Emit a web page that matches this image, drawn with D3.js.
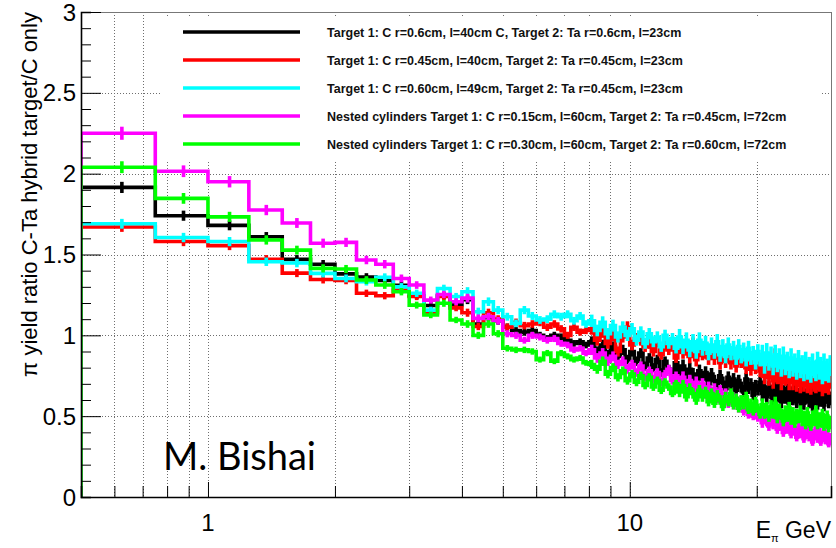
<!DOCTYPE html>
<html>
<head>
<meta charset="utf-8">
<script src="https://cdn.jsdelivr.net/npm/d3@7/dist/d3.min.js"></script>
<style>
  body { margin: 0; background: #fff; }
  svg { display: block; }
</style>
</head>
<body>
<svg id="chart" width="836" height="548"></svg>
<script>
// Histogram binning: fixed 0.25 GeV bins starting at 0.5 GeV
const binStart = 0.5;
const binWidth = 0.25;

const seriesNames = [
  "Target 1: C r=0.6cm, l=40cm C, Target 2: Ta r=0.6cm, l=23cm",
  "Target 1: C r=0.45cm, l=40cm, Target 2: Ta r=0.45cm, l=23cm",
  "Target 1: C r=0.60cm, l=49cm, Target 2: Ta r=0.45cm, l=23cm",
  "Nested cylinders Target 1: C r=0.15cm, l=60cm, Target 2: Ta r=0.45cm, l=72cm",
  "Nested cylinders Target 1: C r=0.30cm, l=60cm, Target 2: Ta r=0.60cm, l=72cm"
];
const seriesColors = ["#000000", "#ff0000", "#00ffff", "#ff00ff", "#00ff00"];

// Yield ratio per bin
const ratioBlack = [
  1.915, 1.74, 1.68, 1.61, 1.47, 1.44, 1.38, 1.36, 1.34, 1.31,
  1.245, 1.185, 1.245, 1.19, 1.22, 1.07, 1.11, 1.09, 1.05, 1.03,
  1.02, 1.03, 1.00, 0.98, 1.00, 0.99, 0.97, 0.95, 0.96, 0.94,
  0.96, 0.90, 0.94, 0.88, 0.93, 0.87, 0.91, 0.85, 0.90, 0.84,
  0.89, 0.81, 0.86, 0.80, 0.85, 0.77, 0.84, 0.79, 0.75, 0.83,
  0.77, 0.81, 0.73, 0.79, 0.76, 0.71, 0.78, 0.73, 0.77, 0.70,
  0.76, 0.72, 0.68, 0.75, 0.71, 0.67, 0.74, 0.69, 0.73, 0.66,
  0.72, 0.68, 0.65, 0.73, 0.67, 0.70, 0.63, 0.69, 0.66, 0.71,
  0.64, 0.68, 0.62, 0.67, 0.65, 0.60, 0.69, 0.63, 0.66, 0.59,
  0.65, 0.62, 0.67, 0.58, 0.64, 0.61, 0.66, 0.59, 0.63, 0.60,
  0.65, 0.58, 0.62, 0.66, 0.59, 0.63, 0.57, 0.64, 0.61, 0.58,
  0.65, 0.60, 0.63, 0.57, 0.62, 0.66, 0.59, 0.61
];
const ratioRed = [
  1.67, 1.58, 1.555, 1.47, 1.385, 1.345, 1.34, 1.26, 1.245, 1.28,
  1.24, 1.14, 1.24, 1.17, 1.14, 1.055, 1.14, 1.10, 1.05, 1.08,
  1.06, 1.07, 1.08, 1.05, 1.07, 1.04, 1.00, 1.05, 1.02, 1.03,
  1.04, 0.97, 1.02, 0.95, 1.00, 0.90, 0.99, 1.05, 0.94, 0.98,
  0.97, 0.93, 0.95, 0.90, 0.96, 0.88, 0.94, 0.91, 0.95, 0.86,
  0.93, 0.90, 0.92, 0.87, 0.94, 0.85, 0.91, 0.89, 0.90, 0.86,
  0.89, 0.86, 0.92, 0.83, 0.88, 0.84, 0.90, 0.83, 0.88, 0.81,
  0.86, 0.84, 0.85, 0.80, 0.88, 0.79, 0.84, 0.80, 0.85, 0.78,
  0.79, 0.75, 0.82, 0.74, 0.80, 0.72, 0.86, 0.75, 0.78, 0.71,
  0.78, 0.74, 0.77, 0.71, 0.79, 0.71, 0.76, 0.70, 0.78, 0.69,
  0.74, 0.70, 0.77, 0.69, 0.73, 0.68, 0.76, 0.70, 0.69, 0.75,
  0.70, 0.73, 0.67, 0.76, 0.69, 0.72, 0.68, 0.74
];
const ratioCyan = [
  1.69, 1.605, 1.58, 1.455, 1.447, 1.383, 1.352, 1.332, 1.359, 1.30,
  1.26, 1.156, 1.29, 1.24, 1.27, 1.146, 1.208, 1.156, 1.115, 1.074,
  1.156, 1.12, 1.095, 1.10, 1.13, 1.115, 1.13, 1.09, 1.12, 1.07,
  1.09, 1.03, 1.08, 1.01, 1.06, 0.99, 1.05, 1.00, 1.04, 0.97,
  1.02, 0.95, 1.01, 0.96, 0.99, 0.93, 1.00, 0.95, 0.98, 0.92,
  0.99, 0.93, 0.97, 0.91, 0.96, 0.90, 0.97, 0.92, 0.95, 0.89,
  0.94, 0.90, 0.96, 0.88, 0.93, 0.87, 0.94, 0.89, 0.92, 0.86,
  0.93, 0.87, 0.91, 0.85, 0.92, 0.86, 0.89, 0.83, 0.90, 0.85,
  0.88, 0.82, 0.89, 0.84, 0.87, 0.81, 0.88, 0.83, 0.86, 0.80,
  0.87, 0.81, 0.84, 0.79, 0.86, 0.80, 0.83, 0.78, 0.85, 0.79,
  0.82, 0.77, 0.84, 0.78, 0.81, 0.76, 0.83, 0.79, 0.77, 0.84,
  0.78, 0.81, 0.75, 0.83, 0.77, 0.80, 0.76, 0.82
];
const ratioMagenta = [
  2.25, 2.015, 1.95, 1.775, 1.695, 1.57, 1.575, 1.466, 1.44, 1.352,
  1.311, 1.218, 1.253, 1.208, 1.23, 1.105, 1.115, 1.09, 1.01, 1.00,
  0.97, 1.00, 0.99, 0.97, 0.98, 0.95, 0.94, 0.91, 0.92, 0.89,
  0.91, 0.86, 0.89, 0.84, 0.87, 0.82, 0.84, 0.79, 0.82, 0.77,
  0.81, 0.74, 0.78, 0.73, 0.77, 0.71, 0.76, 0.79, 0.72, 0.75,
  0.69, 0.74, 0.68, 0.72, 0.66, 0.71, 0.65, 0.70, 0.64, 0.68,
  0.63, 0.67, 0.61, 0.66, 0.59, 0.64, 0.58, 0.63, 0.57, 0.61,
  0.55, 0.60, 0.53, 0.57, 0.51, 0.56, 0.50, 0.54, 0.49, 0.53,
  0.46, 0.52, 0.47, 0.44, 0.50, 0.45, 0.48, 0.42, 0.47, 0.44,
  0.40, 0.46, 0.42, 0.45, 0.39, 0.44, 0.41, 0.37, 0.43, 0.39,
  0.42, 0.36, 0.40, 0.44, 0.37, 0.41, 0.34, 0.39, 0.42, 0.36,
  0.40, 0.34, 0.38, 0.42, 0.35, 0.39, 0.33, 0.37
];
const ratioGreen = [
  2.04, 1.847, 1.733, 1.59, 1.527, 1.414, 1.41, 1.342, 1.311, 1.27,
  1.187, 1.126, 1.198, 1.095, 1.07, 1.00, 1.07, 1.01, 0.92, 0.91,
  0.91, 0.90, 0.85, 0.89, 0.84, 0.89, 0.87, 0.85, 0.86, 0.83,
  0.82, 0.79, 0.84, 0.76, 0.80, 0.74, 0.78, 0.72, 0.76, 0.71,
  0.75, 0.69, 0.74, 0.68, 0.72, 0.66, 0.71, 0.68, 0.64, 0.70,
  0.65, 0.69, 0.62, 0.67, 0.64, 0.60, 0.66, 0.62, 0.65, 0.59,
  0.64, 0.58, 0.63, 0.60, 0.56, 0.62, 0.59, 0.64, 0.57, 0.61,
  0.55, 0.60, 0.57, 0.62, 0.54, 0.58, 0.53, 0.59, 0.55, 0.51,
  0.57, 0.52, 0.55, 0.50, 0.56, 0.52, 0.58, 0.49, 0.54, 0.51,
  0.47, 0.53, 0.50, 0.55, 0.48, 0.52, 0.46, 0.51, 0.49, 0.53,
  0.47, 0.50, 0.45, 0.52, 0.48, 0.44, 0.50, 0.47, 0.53, 0.45,
  0.49, 0.46, 0.51, 0.44, 0.48, 0.50, 0.43, 0.47
];

// Relative statistical error per bin (shared by all targets)
const relErr = [
  0.018, 0.018, 0.018, 0.018, 0.018, 0.018, 0.018, 0.018, 0.018, 0.018,
  0.018, 0.018, 0.018, 0.018, 0.022, 0.022, 0.022, 0.022, 0.022, 0.022,
  0.022, 0.022, 0.022, 0.022, 0.022, 0.022, 0.022, 0.022, 0.022, 0.022,
  0.035, 0.035, 0.035, 0.035, 0.035, 0.035, 0.035, 0.035, 0.035, 0.035,
  0.035, 0.035, 0.035, 0.035, 0.035, 0.035, 0.035, 0.035, 0.035, 0.035,
  0.050, 0.050, 0.050, 0.050, 0.050, 0.050, 0.050, 0.050, 0.050, 0.050,
  0.050, 0.050, 0.050, 0.050, 0.050, 0.050, 0.050, 0.050, 0.050, 0.050,
  0.050, 0.050, 0.050, 0.050, 0.050, 0.050, 0.050, 0.050, 0.050, 0.050,
  0.070, 0.070, 0.070, 0.070, 0.070, 0.070, 0.070, 0.070, 0.070, 0.070,
  0.070, 0.070, 0.070, 0.070, 0.070, 0.070, 0.070, 0.070, 0.070, 0.070,
  0.070, 0.070, 0.070, 0.070, 0.070, 0.070, 0.070, 0.070, 0.070, 0.070,
  0.070, 0.070, 0.070, 0.070, 0.070, 0.070, 0.070, 0.070
];

const yTickValues = [0, 0.5, 1, 1.5, 2, 2.5, 3];
const xLabelValues = [1, 10];
const xGridValues = [0.6, 0.7, 0.8, 0.9, 1, 2, 3, 4, 5, 6, 7, 8, 9, 10, 20];
const xDomain = [0.5, 30];
const yDomain = [0, 3];

const allSeries = [ratioBlack, ratioRed, ratioCyan, ratioMagenta, ratioGreen];

const svg = d3.select("#chart");
const plot = { left: 81, right: 831, top: 12, bottom: 497 };

const x = d3.scaleLog().domain(xDomain).range([plot.left, plot.right]);
const y = d3.scaleLinear().domain(yDomain).range([plot.bottom, plot.top]);

svg.append("defs").append("clipPath").attr("id", "plotClip")
  .append("rect")
  .attr("x", plot.left).attr("y", plot.top)
  .attr("width", plot.right - plot.left).attr("height", plot.bottom - plot.top);

// Dotted grid
const grid = svg.append("g").attr("stroke", "#6e6e6e").attr("stroke-width", 1)
  .attr("stroke-dasharray", "1,2").attr("shape-rendering", "crispEdges");
grid.selectAll("line.gx").data(xGridValues).join("line")
  .attr("x1", d => Math.round(x(d)) + 0.5).attr("x2", d => Math.round(x(d)) + 0.5)
  .attr("y1", plot.top).attr("y2", plot.bottom);
grid.selectAll("line.gy").data(yTickValues.filter(v => v > 0 && v < 3)).join("line")
  .attr("x1", plot.left).attr("x2", plot.right)
  .attr("y1", d => Math.round(y(d)) + 0.5).attr("y2", d => Math.round(y(d)) + 0.5);

// Histograms drawn as step outlines with error bars at bin centres
const histLayer = svg.append("g").attr("clip-path", "url(#plotClip)");
allSeries.forEach((vals, s) => {
  const bins = vals.map((v, i) => {
    const lo = binStart + i * binWidth;
    return { lo, hi: lo + binWidth, mid: lo + binWidth / 2, v, e: v * relErr[i] };
  });
  const pts = [[x(binStart), y(0)]];
  bins.forEach(b => { pts.push([x(b.lo), y(b.v)]); pts.push([x(b.hi), y(b.v)]); });
  const g = histLayer.append("g");
  g.append("path")
    .attr("d", d3.line()(pts))
    .attr("fill", "none")
    .attr("stroke", seriesColors[s])
    .attr("stroke-width", 3.6)
    .attr("stroke-linejoin", "miter")
    .attr("stroke-linecap", "square");
  g.selectAll("line").data(bins).join("line")
    .attr("x1", b => x(b.mid)).attr("x2", b => x(b.mid))
    .attr("y1", b => y(b.v - b.e)).attr("y2", b => y(b.v + b.e))
    .attr("stroke", seriesColors[s])
    .attr("stroke-width", 3.6);
});

// Frame
svg.append("line").attr("x1", plot.left).attr("x2", plot.right).attr("y1", plot.top + 0.5).attr("y2", plot.top + 0.5)
  .attr("stroke", "#777").attr("stroke-width", 1);
svg.append("line").attr("x1", plot.right + 0.5).attr("x2", plot.right + 0.5).attr("y1", plot.top).attr("y2", plot.bottom)
  .attr("stroke", "#777").attr("stroke-width", 1);

// Y axis (ticks pointing into the plot)
const yAxis = d3.axisRight(y)
  .tickValues(d3.range(0, 30.5, 1).map(k => k / 10))
  .tickSize(10)
  .tickFormat("");
const yAxisG = svg.append("g").attr("transform", `translate(${plot.left},0)`).call(yAxis);
yAxisG.select(".domain").attr("stroke", "#000").attr("stroke-width", 1.6);
yAxisG.selectAll(".tick line")
  .attr("stroke", "#000").attr("stroke-width", 1)
  .attr("x2", d => (Math.abs(d * 2 - Math.round(d * 2)) < 1e-6 ? 20 : 10));
svg.append("g").selectAll("text").data(yTickValues).join("text")
  .attr("x", plot.left - 5).attr("y", d => y(d) + 8.5)
  .attr("text-anchor", "end")
  .attr("font-family", "'Liberation Sans', Arial, sans-serif")
  .attr("font-size", 24)
  .text(d => d3.format("~g")(d));

// X axis (ticks pointing up into the plot)
const xAxis = d3.axisTop(x)
  .tickValues(xGridValues)
  .tickSize(11)
  .tickFormat("");
const xAxisG = svg.append("g").attr("transform", `translate(0,${plot.bottom})`).call(xAxis);
xAxisG.select(".domain").attr("stroke", "#000").attr("stroke-width", 1.6);
xAxisG.selectAll(".tick line")
  .attr("stroke", "#000").attr("stroke-width", 1)
  .attr("y2", d => (d === 1 || d === 10 ? -15 : -11));
svg.append("g").selectAll("text").data(xLabelValues).join("text")
  .attr("x", d => x(d)).attr("y", plot.bottom + 34)
  .attr("text-anchor", "middle")
  .attr("font-family", "'Liberation Sans', Arial, sans-serif")
  .attr("font-size", 24)
  .text(d => d);

// Axis titles
const xTitle = svg.append("text")
  .attr("x", plot.right).attr("y", 538)
  .attr("text-anchor", "end")
  .attr("font-family", "'Liberation Sans', Arial, sans-serif")
  .attr("font-size", 23);
xTitle.append("tspan").text("E");
xTitle.append("tspan").attr("font-size", 11).attr("dy", 4).text("π");
xTitle.append("tspan").attr("dy", -4).text(" GeV");

svg.append("text")
  .attr("transform", `translate(37,${plot.top}) rotate(-90)`)
  .attr("text-anchor", "end")
  .attr("font-family", "'Liberation Sans', Arial, sans-serif")
  .attr("font-size", 22)
  .text("π yield ratio C-Ta hybrid target/C only");

// Legend
const legend = svg.append("g");
legend.append("rect")
  .attr("x", 160).attr("y", 18).attr("width", 662).attr("height", 142)
  .attr("fill", "#fff");
const rowY = [32, 60, 88, 116, 144];
seriesNames.forEach((name, i) => {
  legend.append("line")
    .attr("x1", 183).attr("x2", 300).attr("y1", rowY[i]).attr("y2", rowY[i])
    .attr("stroke", seriesColors[i]).attr("stroke-width", 3.6);
  legend.append("text")
    .attr("x", 327).attr("y", rowY[i] + 4.5)
    .attr("font-family", "'Liberation Sans Narrow', 'Liberation Sans', Arial, sans-serif")
    .attr("font-weight", "bold")
    .attr("font-size", 12.5)
    .attr("fill", "#111")
    .text(name);
});

// Author tag
svg.append("text")
  .attr("x", 163).attr("y", 470)
  .attr("font-family", "Lato, 'Open Sans', sans-serif")
  .attr("font-size", 38)
  .attr("fill", "#000")
  .text("M. Bishai");
</script>
</body>
</html>
